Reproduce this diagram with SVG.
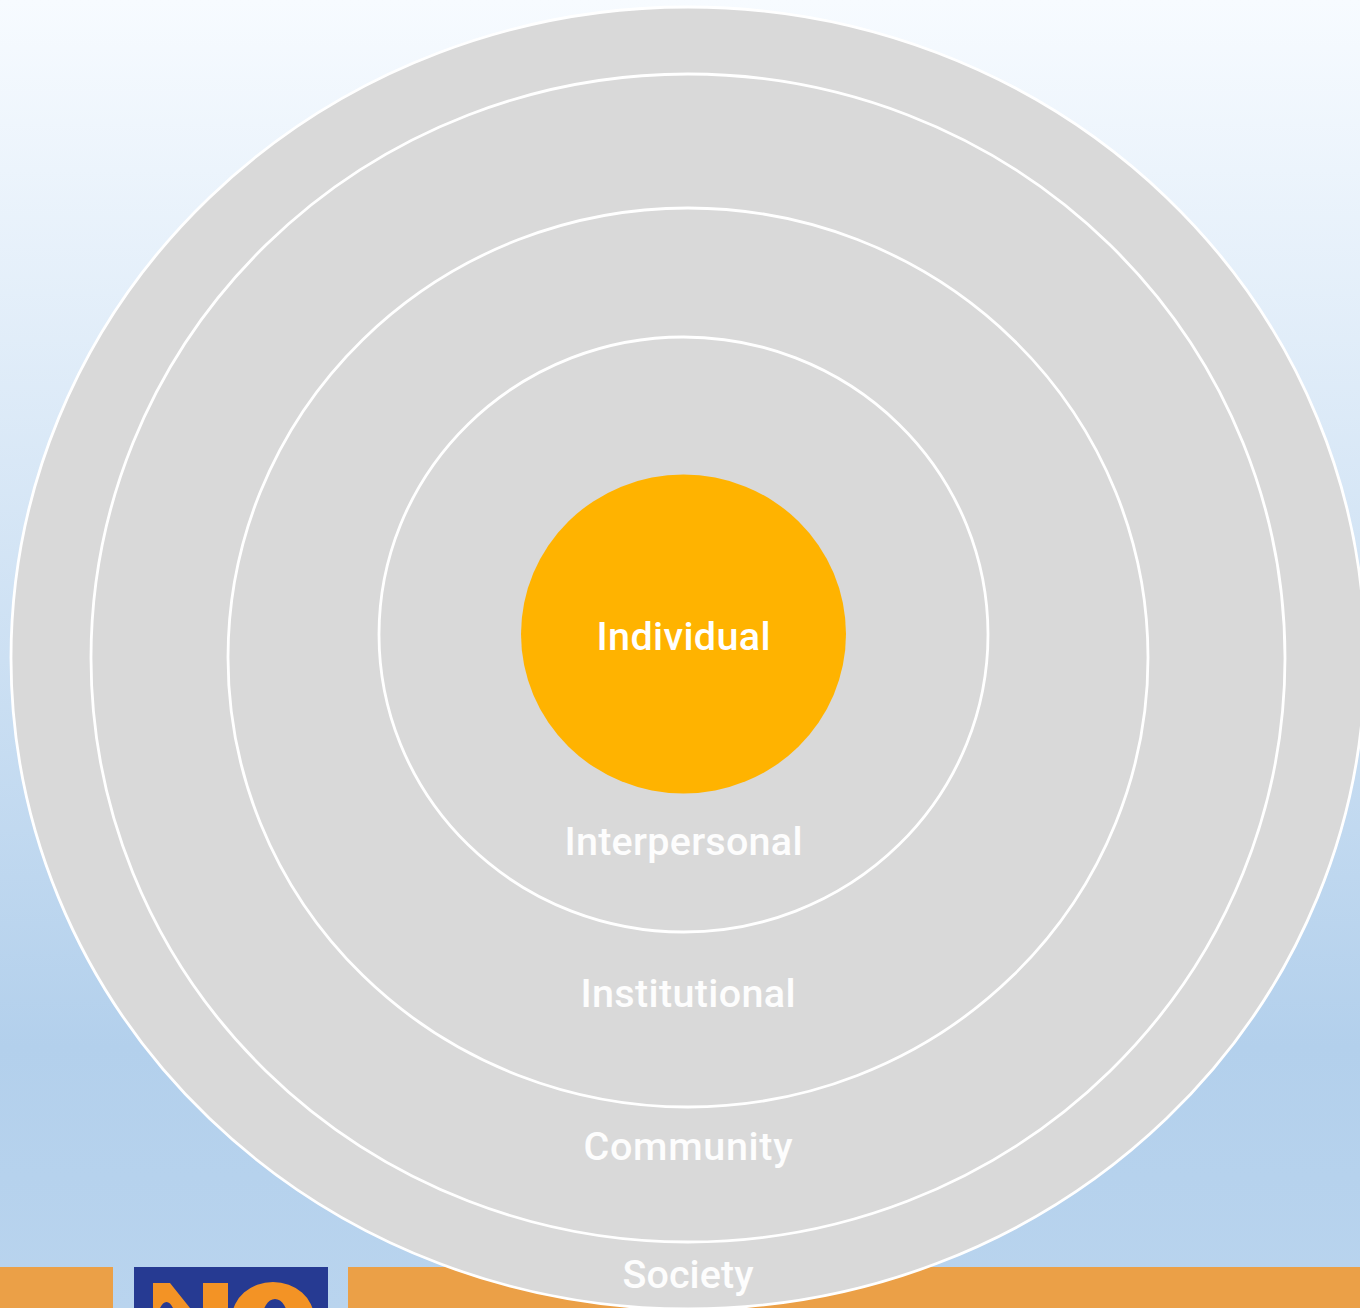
<svg xmlns="http://www.w3.org/2000/svg" width="1360" height="1308" viewBox="0 0 1360 1308">
<defs>
<linearGradient id="bg" x1="0" y1="0" x2="0" y2="1"><stop offset="0" stop-color="#f7fbff"/><stop offset="0.8" stop-color="#b3d0ec"/><stop offset="1" stop-color="#b9d4ee"/></linearGradient>
</defs>
<style>
.ring{fill:#d9d9d9;stroke:#fff;stroke-width:2.8}
.lbl{font-family:Roboto,"Liberation Sans",sans-serif;font-size:39.5px;font-weight:500;fill:#fdfdfd;text-anchor:middle}
.logo{fill:#f39325}
</style>
<rect width="1360" height="1308" fill="url(#bg)"/>
<g id="footer">
<rect x="0" y="1267" width="113" height="41" fill="#eba047"/>
<rect x="348" y="1267" width="1012" height="41" fill="#eba047"/>
<rect x="134" y="1267" width="194" height="41" fill="#263a92"/>
<path class="logo" d="M153 1308V1283H170L190 1308H173C171 1304 169 1302 166.500 1302C164 1302 162 1304 160 1308Z"/>
<rect class="logo" x="203" y="1283" width="25" height="25"/>
<path class="logo" fill-rule="evenodd" d="M232 1318A41 36 0 0 1 314 1318A41 36 0 0 1 232 1318ZM262 1320A13 21 0 0 0 288 1320A13 21 0 0 0 262 1320Z"/>
</g>
<g id="society"><ellipse class="ring" cx="688" cy="658" rx="677" ry="651"/><text class="lbl" x="688" y="1288" textLength="131">Society</text></g>
<g id="community"><ellipse class="ring" cx="688" cy="658" rx="597" ry="584"/><text class="lbl" x="688" y="1160" textLength="209">Community</text></g>
<g id="institutional"><ellipse class="ring" cx="688" cy="657.500" rx="460" ry="449.500"/><text class="lbl" x="688" y="1007" textLength="215">Institutional</text></g>
<g id="interpersonal"><ellipse class="ring" cx="683.500" cy="634.500" rx="304.500" ry="297.500"/><text class="lbl" x="683.500" y="855" textLength="238">Interpersonal</text></g>
<g id="individual"><ellipse cx="683.500" cy="634" rx="162.500" ry="159.500" fill="#ffb300"/><text class="lbl" x="683.500" y="650" textLength="174" style="fill:#fff">Individual</text></g>
</svg>
